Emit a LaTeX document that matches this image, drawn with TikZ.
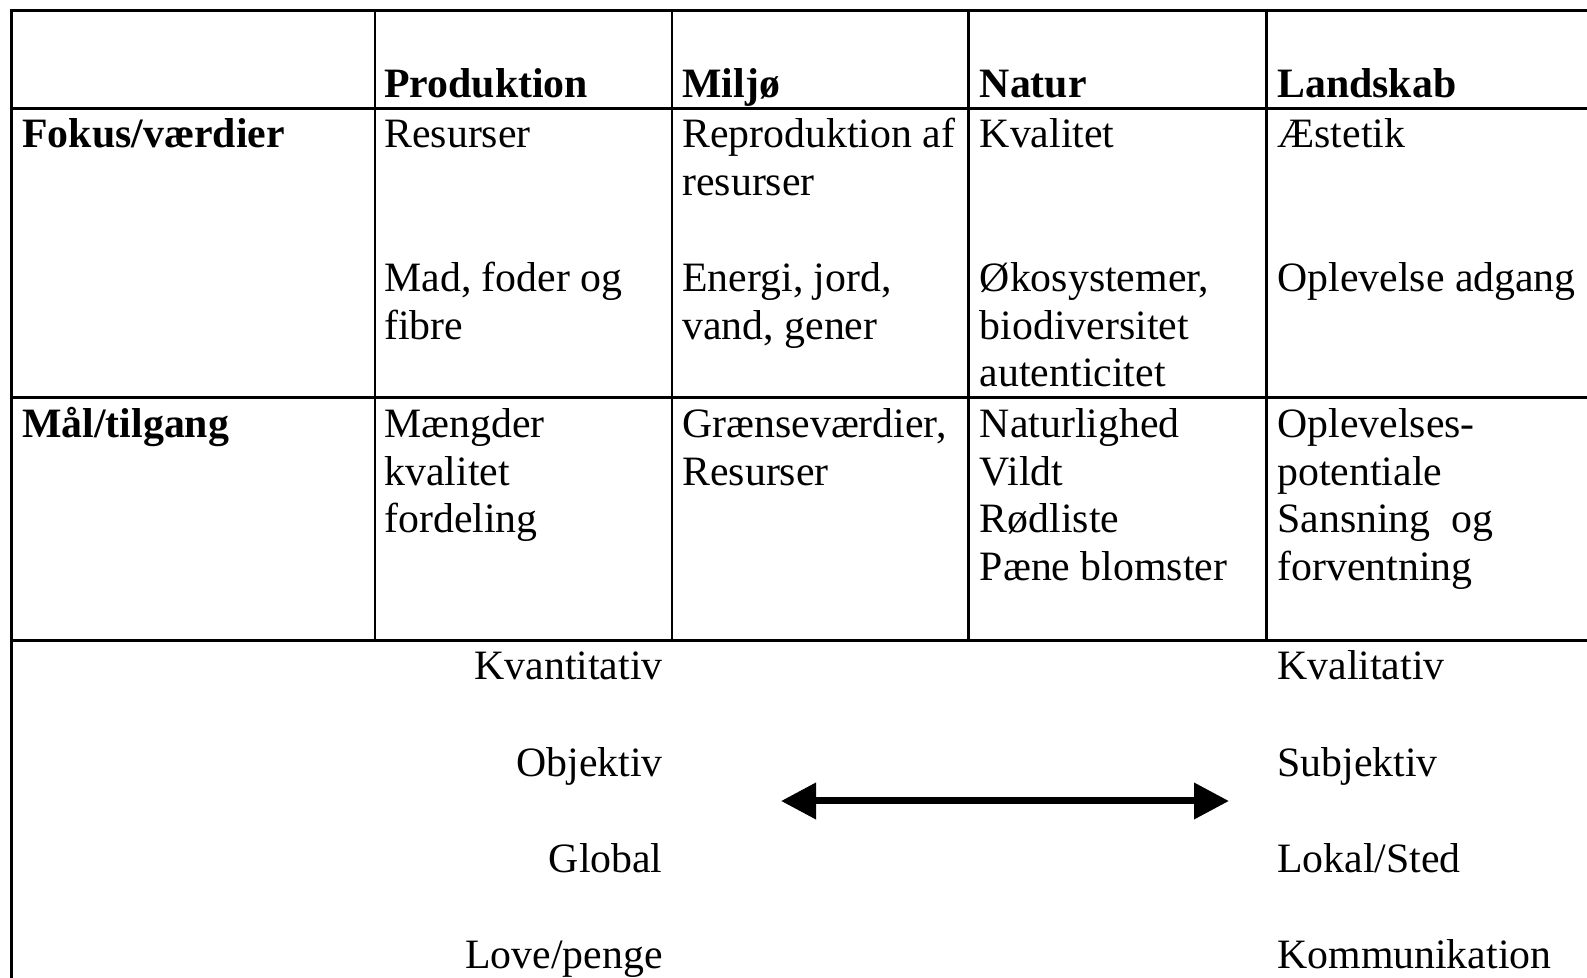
\documentclass[tikz,border=0pt]{standalone}
\usepackage{fontspec}
\setmainfont{Liberation Serif}
\usetikzlibrary{arrows.meta}

\begin{document}
\begin{tikzpicture}[
    x=0.5pt, y=-0.5pt,
    txt/.style={anchor=base west, inner sep=0pt, font=\fontsize{20.9}{24}\selectfont},
    hd/.style={txt, font=\fontsize{20.9}{24}\selectfont\bfseries},
    rtxt/.style={txt, anchor=base east},
    rule/.style={line width=1.5pt},
    colrule/.style={line width=1.1pt},
    pil/.style={line width=3.5pt, {Triangle[length=17.5pt,width=17.5pt]}-{Triangle[length=17.5pt,width=17.5pt]}}]
    \useasboundingbox (0,0) rectangle (1587,978);
    % table frame
    \draw[rule] (1587,10.5) -- (11.5,10.5) -- (11.5,978);
    \draw[rule] (11.5,108.3) -- (1587,108.3);
    \draw[rule] (11.5,398) -- (1587,398);
    \draw[rule] (11.5,641) -- (1587,641);
    \foreach \x in {375,672,968.5,1266.5}
    \draw[colrule] (\x,10.5) -- (\x,641);
    % header
    \node[hd] (prod) at (384,98) {Produktion};
    \node[hd] (milj) at (682,98) {Miljø};
    \node[hd] (natur) at (979.5,98) {Natur};
    \node[hd] (land) at (1277,98) {Landskab};
    % row 1
    \node[hd] (fokus) at (22,148) {Fokus/værdier};
    \node[txt] (prodA) at (384,148) {Resurser};
    \node[txt] (prodB) at (384,292) {Mad, foder og};
    \node[txt] (prodC) at (384,340) {fibre};
    \node[txt] (miljA) at (682,148) {Reproduktion af};
    \node[txt] (miljB) at (682,196) {resurser};
    \node[txt] (miljC) at (682,292) {Energi, jord,};
    \node[txt] (miljD) at (682,340) {vand, gener};
    \node[txt] (naturA) at (979.5,148) {Kvalitet};
    \node[txt] (naturB) at (979.5,292) {Økosystemer,};
    \node[txt] (naturC) at (979.5,340) {biodiversitet};
    \node[txt] (naturD) at (979.5,387) {autenticitet};
    \node[txt] (landA) at (1277,148) {Æstetik};
    \node[txt] (landB) at (1277,292) {Oplevelse adgang};
    % row 2
    \node[hd] (maal) at (22,438) {Mål/tilgang};
    \node[txt] (prodD) at (384,438) {Mængder};
    \node[txt] (prodE) at (384,485.5) {kvalitet};
    \node[txt] (prodF) at (384,533) {fordeling};
    \node[txt] (miljE) at (682,438) {Grænseværdier,};
    \node[txt] (miljF) at (682,485.5) {Resurser};
    \node[txt] (naturE) at (979.5,438) {Naturlighed};
    \node[txt] (naturF) at (979.5,485.5) {Vildt};
    \node[txt] (naturG) at (979.5,533) {Rødliste};
    \node[txt] (naturH) at (979.5,580.5) {Pæne blomster};
    \node[txt] (landC) at (1277,438) {Oplevelses-};
    \node[txt] (landD) at (1277,485.5) {potentiale};
    \node[txt] (landE) at (1277,533) {Sansning~ og};
    \node[txt] (landF) at (1277,580.5) {forventning};
    % scale below
    \foreach \l/\r [count=\i] in {Kvantitativ/Kvalitativ, Objektiv/Subjektiv, Global/Lokal\slash Sted, Love\slash penge/Kommunikation}{
    \node[rtxt] (venstre\i) at (663,583.8+96.2*\i) {\l};
    \node[txt] (hoejre\i) at (1277,583.8+96.2*\i) {\r};
    }
    \coordinate (pilV) at (781,801);
    \coordinate (pilH) at (1229,801);
    \draw[pil] (pilV) -- (pilH);
\end{tikzpicture}
\end{document}
